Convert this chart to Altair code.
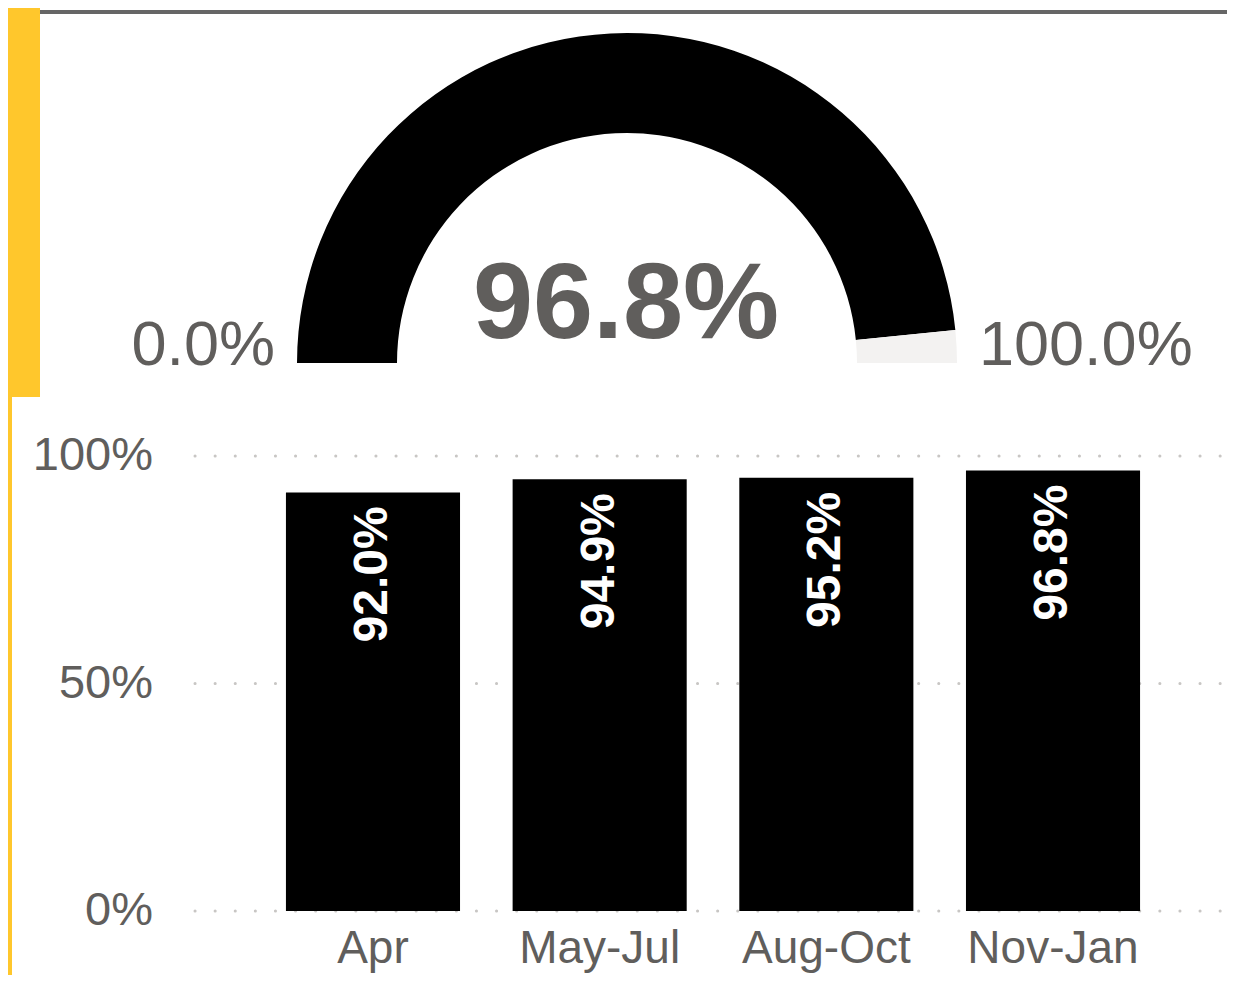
import math
import altair as alt
import pandas as pd

# ---- data ----
categories = ["Apr", "May-Jul", "Aug-Oct", "Nov-Jan"]
values = [0.920, 0.949, 0.952, 0.968]
gauge_value = 0.968
gauge_min = 0.0
gauge_max = 1.0
y_ticks = [0.0, 0.5, 1.0]

FONT = "Liberation Sans"
TXT = "#605E5C"
W, H = 1219, 967

bars_df = pd.DataFrame({"category": categories, "value": values})
ticks_df = pd.DataFrame({"tick": y_ticks})
gauge_df = pd.DataFrame({
    "start": [gauge_min, gauge_value],
    "end": [gauge_value, gauge_max],
    "color": ["#000000", "#F3F2F1"],
})
gval_df = pd.DataFrame({"value": [gauge_value]})
gmin_df = pd.DataFrame({"value": [gauge_min]})
gmax_df = pd.DataFrame({"value": [gauge_max]})
one = pd.DataFrame({"k": [0]})

xscale = alt.Scale(domain=categories, range=[251.65, 1158.35],
                   paddingInner=0.232, paddingOuter=0.116)
yscale = alt.Scale(domain=[0, 1], range=[903, 448], zero=True, nice=False)
tscale = alt.Scale(domain=[0, 1], range=[1.5 * math.pi, 2.5 * math.pi])

# decorations
yellow_top = alt.Chart(one).mark_rect(color="#FFC72C").encode(
    x=alt.value(0), x2=alt.value(32), y=alt.value(0), y2=alt.value(389))
yellow_side = alt.Chart(one).mark_rect(color="#FFC72C").encode(
    x=alt.value(0), x2=alt.value(4), y=alt.value(389), y2=alt.value(H))
top_line = alt.Chart(one).mark_rule(color="#666666", strokeWidth=4).encode(
    x=alt.value(32), x2=alt.value(W), y=alt.value(4))

# gauge
gauge = alt.Chart(gauge_df).mark_arc(radius=330, radius2=230, stroke=None).encode(
    theta=alt.Theta("start:Q", scale=tscale, stack=None),
    theta2="end:Q",
    color=alt.Color("color:N", scale=None),
    x=alt.value(619), y=alt.value(355),
)
gauge_text = alt.Chart(gval_df).mark_text(
    font=FONT, fontSize=108, fontWeight="bold", color=TXT,
    align="center", baseline="alphabetic").encode(
    text=alt.Text("value:Q", format=".1%"),
    x=alt.value(618), y=alt.value(330))
gmin_text = alt.Chart(gmin_df).mark_text(
    font=FONT, fontSize=63, color=TXT, align="right", baseline="alphabetic").encode(
    text=alt.Text("value:Q", format=".1%"),
    x=alt.value(267), y=alt.value(357))
gmax_text = alt.Chart(gmax_df).mark_text(
    font=FONT, fontSize=63, color=TXT, align="left", baseline="alphabetic").encode(
    text=alt.Text("value:Q", format=".1%"),
    x=alt.value(971), y=alt.value(357))

# bar chart
grid = alt.Chart(ticks_df).mark_rule(
    color="#C8C6C4", strokeWidth=3, strokeDash=[0.1, 20], strokeCap="round").encode(
    y=alt.Y("tick:Q", scale=yscale, axis=None),
    x=alt.value(187), x2=alt.value(W))
ylabels = alt.Chart(ticks_df).mark_text(
    font=FONT, fontSize=47, color=TXT, align="right", baseline="middle").encode(
    y=alt.Y("tick:Q", scale=yscale, axis=None),
    text=alt.Text("tick:Q", format=".0%"),
    x=alt.value(145))
bars = alt.Chart(bars_df).mark_bar(color="#000000").encode(
    x=alt.X("category:N", scale=xscale, axis=None, sort=categories),
    y=alt.Y("value:Q", scale=yscale, axis=None),
)
bar_labels = alt.Chart(bars_df).mark_text(
    font=FONT, fontSize=48, fontWeight="bold", color="white",
    angle=270, align="right", baseline="middle", dx=-14).encode(
    x=alt.X("category:N", scale=xscale, axis=None, sort=categories),
    y=alt.Y("value:Q", scale=yscale, axis=None),
    text=alt.Text("value:Q", format=".1%"))
xlabels = alt.Chart(bars_df).mark_text(
    font=FONT, fontSize=46, color=TXT, align="center", baseline="alphabetic").encode(
    x=alt.X("category:N", scale=xscale, axis=None, sort=categories),
    text="category:N",
    y=alt.value(955))

chart = alt.layer(
    yellow_top, yellow_side, top_line,
    gauge, gauge_text, gmin_text, gmax_text,
    grid, bars, bar_labels, ylabels, xlabels,
).properties(
    width=W, height=H,
    autosize=alt.AutoSizeParams(type="none"),
    padding=0,
).configure_view(stroke=None)

chart.save("out.html", embed_options={"renderer": "svg", "actions": False})
